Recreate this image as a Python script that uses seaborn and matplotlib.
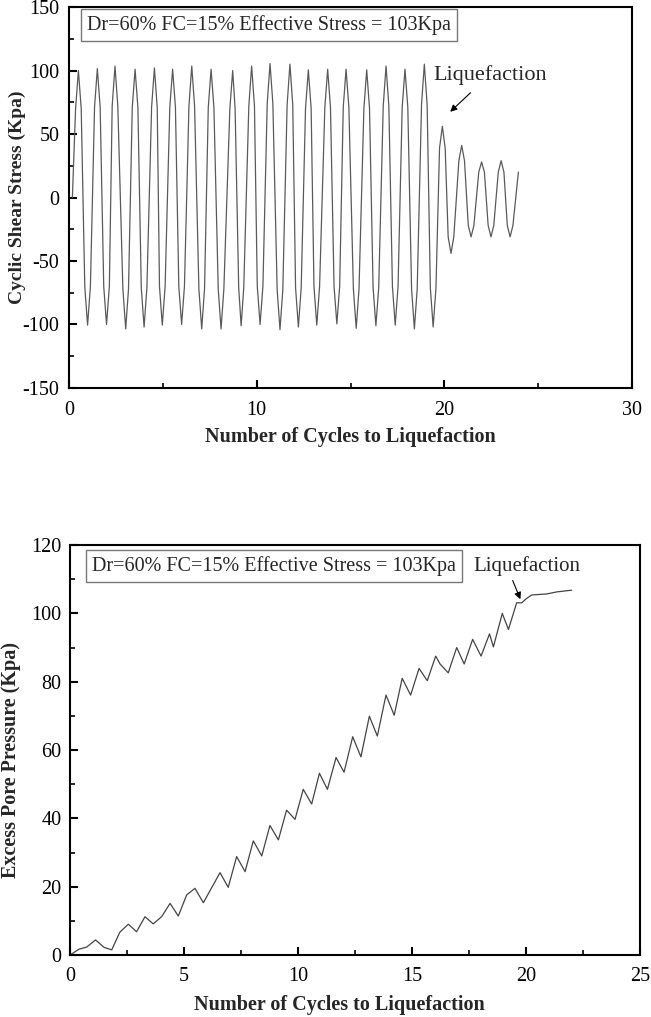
import matplotlib
matplotlib.use('Agg')
import matplotlib.pyplot as plt
import pandas as pd
import seaborn as sns
from matplotlib.ticker import MultipleLocator

# cyclic shear stress vs cycles (tips and shoulders)
stress_x = [0.18,
            0.35, 0.50, 0.65, 0.84, 0.99, 1.14,
            1.36, 1.51, 1.66, 1.85, 2.00, 2.15,
            2.30, 2.45, 2.60, 2.87, 3.02, 3.17,
            3.37, 3.52, 3.67, 3.85, 4.00, 4.15,
            4.40, 4.55, 4.70, 4.82, 4.97, 5.12,
            5.37, 5.52, 5.67, 5.85, 6.00, 6.15,
            6.39, 6.54, 6.69, 6.92, 7.07, 7.22,
            7.42, 7.57, 7.72, 7.95, 8.10, 8.25,
            8.57, 8.72, 8.85, 9.04, 9.17, 9.31,
            9.58, 9.73, 9.88, 10.03, 10.18, 10.33,
            10.56, 10.71, 10.86, 11.09, 11.24, 11.39,
            11.62, 11.77, 11.92, 12.07, 12.22, 12.37,
            12.60, 12.75, 12.90, 13.05, 13.20, 13.35,
            13.63, 13.78, 13.93, 14.12, 14.27, 14.42,
            14.61, 14.76, 14.91, 15.15, 15.30, 15.45,
            15.71, 15.86, 16.01, 16.20, 16.35, 16.50,
            16.74, 16.89, 17.04, 17.23, 17.38, 17.53,
            17.75, 17.90, 18.05, 18.25, 18.40, 18.55,
            18.78, 18.93, 19.08, 19.25, 19.40, 19.55,
            19.74, 19.89, 20.04, 20.20, 20.35, 20.50,
            20.77, 20.92, 21.07, 21.27, 21.42, 21.57,
            21.83, 21.98, 22.13, 22.33, 22.48, 22.63,
            22.87, 23.02, 23.17, 23.35, 23.50, 23.65,
            23.94]
stress_y = [0.0,
            70, 100.0, 70, -70, -100.5, -70,
            71, 101.5, 71, -70, -100.0, -70,
            72, 103.5, 72, -72, -103.5, -72,
            71, 101.0, 71, -71, -102.0, -71,
            71, 102.0, 71, -70, -100.5, -70,
            71, 101.0, 71, -70, -100.0, -70,
            72, 103.5, 72, -72, -103.5, -72,
            71, 101.0, 71, -72, -103.5, -72,
            70, 100.0, 70, -71, -101.0, -71,
            72, 103.5, 72, -70, -100.0, -70,
            74, 105.5, 74, -73, -104.0, -73,
            73, 105.0, 73, -71, -102.0, -71,
            70, 100.5, 70, -70, -100.5, -70,
            71, 101.0, 71, -70, -99.5, -70,
            71, 101.0, 71, -72, -103.0, -72,
            70, 100.5, 70, -71, -101.0, -71,
            72, 103.5, 72, -70, -100.5, -70,
            71, 101.0, 71, -72, -103.5, -72,
            73, 105.0, 73, -71, -102.0, -71,
            39, 56.0, 39, -31, -44.0, -31,
            29, 41.0, 29, -22, -31.0, -22,
            20, 28.0, 20, -22, -31.0, -22,
            20, 29.0, 20, -22, -31.0, -22,
            20.0]

# excess pore pressure vs cycles
pore_x = [0.05, 0.40, 0.73, 1.12, 1.50, 1.83, 2.19, 2.56, 2.92, 3.29, 3.65, 4.02,
          4.39, 4.75, 5.12, 5.48, 5.85, 6.58, 6.94, 7.31, 7.68, 8.04, 8.41, 8.77,
          9.14, 9.50, 9.87, 10.23, 10.60, 10.94, 11.29, 11.67, 12.02, 12.40, 12.76,
          13.13, 13.48, 13.86, 14.22, 14.57, 14.94, 15.31, 15.67, 16.04, 16.23,
          16.59, 16.96, 17.29, 17.66, 18.03, 18.40, 18.57, 18.96, 19.23, 19.59,
          19.81, 20.03, 20.25, 20.91, 21.35, 22.00]
pore_y = [0.2, 1.7, 2.3, 4.4, 2.2, 1.5, 6.7, 9.0, 6.8, 11.2, 9.1, 11.2,
          15.1, 11.4, 17.6, 19.5, 15.3, 24.1, 19.8, 28.8, 24.4, 33.4, 29.0, 37.9,
          33.7, 42.4, 39.7, 48.5, 44.2, 53.2, 48.5, 57.8, 53.5, 63.9, 58.0,
          69.9, 64.1, 76.1, 70.2, 81.0, 76.1, 83.9, 80.3, 87.5, 85.2,
          82.6, 90.0, 85.2, 92.4, 87.5, 94.0, 90.2, 100.0, 95.3, 103.1,
          103.1, 104.4, 105.4, 105.7, 106.3, 106.8]

box_text = 'Dr=60% FC=15% Effective Stress = 103Kpa'
xlabel = 'Number of Cycles to Liquefaction'

df_stress = pd.DataFrame({'cycles': stress_x, 'stress': stress_y})
df_pore = pd.DataFrame({'cycles': pore_x, 'pore': pore_y})

sns.set_style('ticks')
plt.rcParams['font.family'] = ['Liberation Serif', 'DejaVu Serif']
plt.rcParams['axes.unicode_minus'] = False

fig = plt.figure(figsize=(6.51, 10.17), dpi=100)
ax1 = fig.add_axes([0.106, 0.6185, 0.865, 0.3746])
ax2 = fig.add_axes([0.1075, 0.061, 0.8756, 0.403])


def style_axes(ax, fs, xpad, ypad):
    for s in ax.spines.values():
        s.set_linewidth(1.5)
        s.set_color('black')
    ax.tick_params(which='both', direction='in', top=False, right=False,
                   colors='black', labelsize=fs)
    ax.tick_params(which='major', length=6, width=1.5)
    ax.tick_params(which='minor', length=3.5, width=1.2)
    ax.tick_params(axis='x', which='major', pad=xpad)
    ax.tick_params(axis='y', which='major', pad=ypad)


# ---- top: cyclic shear stress
sns.lineplot(data=df_stress, x='cycles', y='stress', ax=ax1, color='#5a5a5a',
             linewidth=0.9, sort=False, estimator=None)
ax1.set_xlim(0, 30)
ax1.set_ylim(-150, 150)
ax1.xaxis.set_major_locator(MultipleLocator(10))
ax1.xaxis.set_minor_locator(MultipleLocator(5))
ax1.yaxis.set_major_locator(MultipleLocator(50))
ax1.yaxis.set_minor_locator(MultipleLocator(25))
style_axes(ax1, 14.5, 9.5, 7)
ax1.set_xlabel(xlabel, fontsize=14.5, fontweight='bold')
ax1.xaxis.label.set_va('center')
ax1.xaxis.set_label_coords(0.5, -0.129)
ax1.set_ylabel('Cyclic Shear Stress (Kpa)', fontsize=14, fontweight='bold')
ax1.yaxis.label.set_va('center')
ax1.yaxis.set_label_coords(-0.092, 0.5)
ax1.text(0.95, 136, box_text, fontsize=14.5, ha='left', va='center',
         bbox=dict(boxstyle='square,pad=0.3', fc='white', ec='#777777', lw=1))
ax1.text(19.4, 96.5, 'Liquefaction', fontsize=16, ha='left', va='center')
ax1.annotate('', xy=(20.2, 66), xytext=(21.5, 84),
             arrowprops=dict(arrowstyle='-|>', color='black', lw=0.8,
                             mutation_scale=10))

# ---- bottom: excess pore pressure
sns.lineplot(data=df_pore, x='cycles', y='pore', ax=ax2, color='#444444',
             linewidth=0.9, sort=False, estimator=None)
ax2.set_xlim(0, 25)
ax2.set_ylim(0, 120)
ax2.xaxis.set_major_locator(MultipleLocator(5))
ax2.xaxis.set_minor_locator(MultipleLocator(2.5))
ax2.yaxis.set_major_locator(MultipleLocator(20))
ax2.yaxis.set_minor_locator(MultipleLocator(10))
style_axes(ax2, 14.5, 9, 6)
ax2.set_xlabel(xlabel, fontsize=14.5, fontweight='bold')
ax2.xaxis.label.set_va('center')
ax2.xaxis.set_label_coords(0.472, -0.122)
ax2.set_ylabel('Excess Pore Pressure (Kpa)', fontsize=14.5, fontweight='bold')
ax2.yaxis.label.set_va('center')
ax2.yaxis.set_label_coords(-0.1035, 0.475)
ax2.text(0.95, 114, box_text, fontsize=14.5, ha='left', va='center',
         bbox=dict(boxstyle='square,pad=0.3', fc='white', ec='#777777', lw=1))
ax2.text(17.68, 114, 'Liquefaction', fontsize=15, ha='left', va='center')
ax2.annotate('', xy=(19.8, 103.4), xytext=(19.37, 110.4),
             arrowprops=dict(arrowstyle='-|>', color='black', lw=0.8,
                             mutation_scale=10))

fig.savefig('out.png', dpi=100)
